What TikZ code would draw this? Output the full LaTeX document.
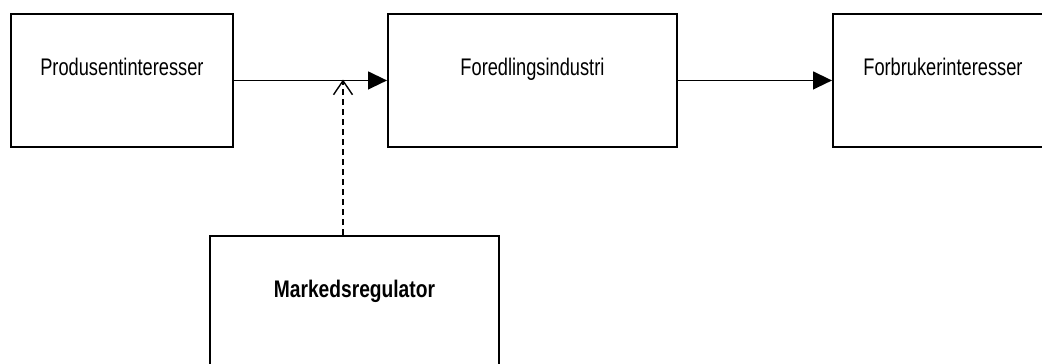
\documentclass[tikz,border=0pt]{standalone}
\usepackage{fontspec}
\setmainfont{Liberation Sans}[FakeStretch=0.76, BoldFeatures={FakeStretch=0.80}]
\usetikzlibrary{arrows.meta}
\tikzset{
  box/.style={draw=black, line width=1.9pt, anchor=north west, inner sep=0pt,
    minimum height=133pt, text height=62pt, text depth=71pt,
    font=\fontsize{24}{28}\selectfont},
  conn/.style={draw=black, line width=1.4pt, -{Triangle[length=19pt,width=18pt]}},
  reg/.style={draw=black, line width=1.4pt, dash pattern=on 6pt off 4pt,
    -{Straight Barb[length=14pt,width=19pt,line width=1.4pt]}},
}
\begin{document}
\begin{tikzpicture}[x=1pt,y=-1pt]
\useasboundingbox (0,0) rectangle (1042,364);
\clip (0,0) rectangle (1042,364);
\node[box, minimum width=222pt] (prod) at (10,13) {Produsentinteresser};
\node[box, minimum width=289pt] (fored) at (387,13) {Foredlingsindustri};
\node[box, minimum width=220pt] (forb) at (832,13) {Forbrukerinteresser};
\node[box, minimum width=289pt] (mark) at (209,235) {\bfseries Markedsregulator};
\coordinate (m) at (343,79.5);
\draw[conn] (prod.east) -- (fored.west);
\draw[conn] (fored.east) -- (forb.west);
\draw[reg] (m |- mark.north) -- (m);
\end{tikzpicture}
\end{document}
